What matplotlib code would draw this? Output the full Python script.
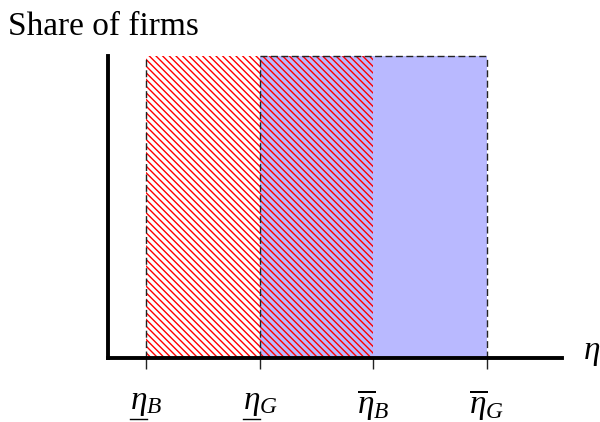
import matplotlib
matplotlib.use('Agg')
import matplotlib.pyplot as plt
from matplotlib.lines import Line2D
from matplotlib.transforms import IdentityTransform

plt.rcParams['font.family'] = 'Liberation Serif'
plt.rcParams['mathtext.fontset'] = 'custom'
plt.rcParams['mathtext.rm'] = 'Liberation Serif'
plt.rcParams['mathtext.it'] = 'Liberation Serif:italic'
plt.rcParams['hatch.linewidth'] = 1.0

# thresholds on the eta axis
tick_pos = [1, 2, 3, 4]
tick_labels = [r'$\eta_B$', r'$\eta_G$', r'$\overline{\eta}_B$', r'$\overline{\eta}_G$']
underlined = [True, True, False, False]   # mathtext has no \underline
bad_range = [1, 3]    # B firms: from eta_B low to eta_B high
good_range = [2, 4]   # G firms: from eta_G low to eta_G high
share = 1.0

fig = plt.figure(figsize=(6, 4.22), dpi=100)
ax = fig.add_axes([108/600, 64/422, 454/600, 302/422])

# blue block for G firms, red hatch for B firms on top
ax.bar(good_range[0], share, width=good_range[1] - good_range[0], align='edge',
       color='#b9b9ff', linewidth=0, zorder=1)
ax.bar(bad_range[0], share, width=bad_range[1] - bad_range[0], align='edge',
       color='none', edgecolor='red', hatch='\\' * 5, linewidth=0, zorder=2)

dash = (0, (5, 2.5))
ax.vlines([bad_range[0], good_range[0], good_range[1]], 0, share, colors='#222222',
          linewidth=1, linestyles=dash, zorder=3, clip_on=False)
ax.hlines(share, good_range[0], good_range[1], colors='#222222',
          linewidth=1, linestyles=dash, zorder=3, clip_on=False)
# little ticks below the axis
ax.vlines(tick_pos, -0.035, 0, colors='#222222', linewidth=1, zorder=3, clip_on=False)

ax.set_xlim(0.661, 4.661)
ax.set_ylim(0, 1)
ax.set_xticks(tick_pos, tick_labels)
ax.set_yticks([])
ax.tick_params(axis='x', length=0, pad=21, labelsize=24)
for s in ['top', 'right']:
    ax.spines[s].set_visible(False)
for s in ['left', 'bottom']:
    ax.spines[s].set_linewidth(2.8)
    ax.spines[s].set_zorder(4)

fig.text(8/600, 1 - 35/422, 'Share of firms', fontsize=24, va='baseline', ha='left')
fig.text(583/600, 1 - 359/422, r'$\eta$', fontsize=24, va='baseline', ha='left')

# underline the lower thresholds by hand
fig.canvas.draw()
r = fig.canvas.get_renderer()
tmp = fig.text(0, 0, r'$\eta$', fontsize=24)
eta_w = tmp.get_window_extent(r).width
tmp.remove()
for lab, u in zip(ax.get_xticklabels(), underlined):
    if u:
        bb = lab.get_window_extent(r)
        fig.add_artist(Line2D([bb.x0, bb.x0 + eta_w], [bb.y0 - 1, bb.y0 - 1],
                              transform=IdentityTransform(), color='black', lw=1))

fig.savefig('out.png', dpi=100)
